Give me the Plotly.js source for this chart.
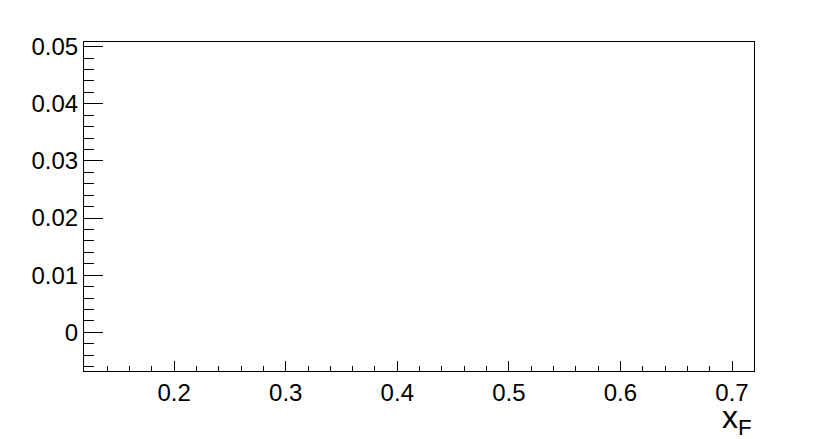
<!DOCTYPE html>
<html>
<head>
<meta charset="utf-8">
<script src="https://cdn.plot.ly/plotly-3.0.1.min.js"></script>
<style>
  html, body { margin: 0; padding: 0; background: white; }
  #graph { width: 837px; height: 439px; }
</style>
</head>
<body>
<div id="graph"></div>
<script>
// axis ranges and ticks (empty frame, no data drawn)
const xRange = [0.1192, 0.7197];
const yRange = [-0.00678, 0.05082];
const xTickVals = [0.2, 0.3, 0.4, 0.5, 0.6, 0.7];
const xTickText = ['0.2', '0.3', '0.4', '0.5', '0.6', '0.7'];
const yTickVals = [0, 0.01, 0.02, 0.03, 0.04, 0.05];
const yTickText = ['0', '0.01', '0.02', '0.03', '0.04', '0.05'];
const xPoints = [];
const yPoints = [];

const font = { family: 'Liberation Sans, Arial, sans-serif', size: 24, color: 'black' };

const trace = {
    x: xPoints,
    y: yPoints,
    mode: 'markers',
    type: 'scatter',
    hoverinfo: 'none',
    showlegend: false,
};

const layout = {
    width: 837,
    height: 439,
    margin: { l: 84, r: 83, t: 42, b: 68 },
    paper_bgcolor: 'white',
    plot_bgcolor: 'white',
    showlegend: false,
    font: font,
    xaxis: {
        range: xRange,
        tickmode: 'array',
        tickvals: xTickVals,
        ticktext: xTickText,
        ticks: 'inside',
        ticklen: 10,
        tickwidth: 1,
        tickcolor: 'black',
        minor: { dtick: 0.02, tick0: 0, ticks: 'inside', ticklen: 5, tickwidth: 1, tickcolor: 'black', showgrid: false },
        showline: true,
        linecolor: 'black',
        linewidth: 1,
        mirror: true,
        showgrid: false,
        zeroline: false,
        tickfont: font,
    },
    yaxis: {
        range: yRange,
        tickmode: 'array',
        tickvals: yTickVals,
        ticktext: yTickText,
        ticks: 'inside',
        ticklen: 19,
        tickwidth: 1,
        tickcolor: 'black',
        minor: { dtick: 0.002, tick0: 0, ticks: 'inside', ticklen: 10, tickwidth: 1, tickcolor: 'black', showgrid: false },
        showline: true,
        linecolor: 'black',
        linewidth: 1,
        mirror: true,
        showgrid: false,
        zeroline: false,
        tickfont: font,
    },
    annotations: [{
        text: 'x<sub>F</sub>',
        xref: 'paper', yref: 'paper',
        x: 1, y: 0,
        xanchor: 'right', yanchor: 'top',
        yshift: -26,
        showarrow: false,
        font: { family: 'Liberation Sans, Arial, sans-serif', size: 32, color: 'black' },
    }],
};

Plotly.newPlot('graph', [trace], layout, { staticPlot: true, displayModeBar: false });
</script>
</body>
</html>
